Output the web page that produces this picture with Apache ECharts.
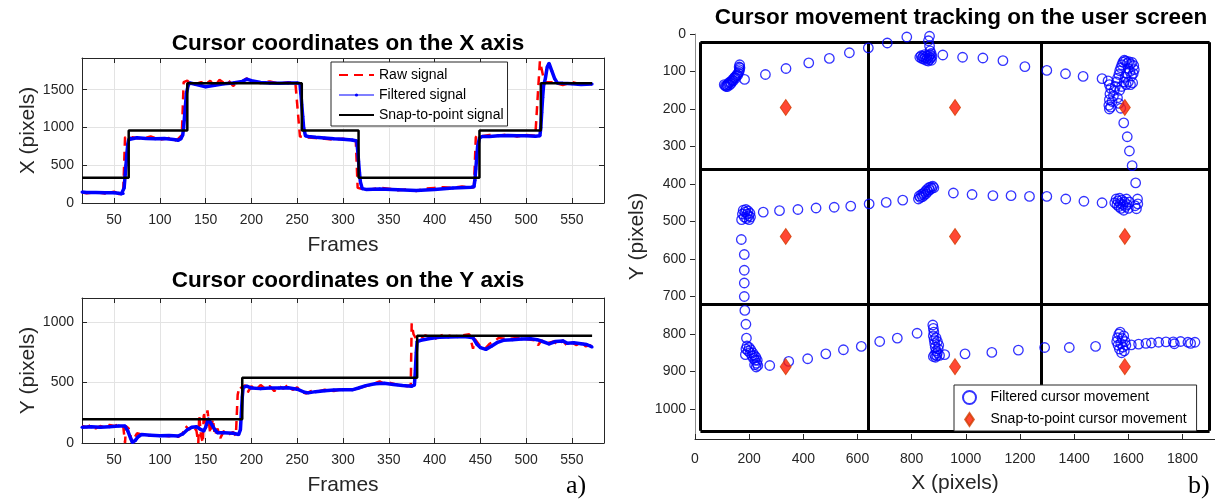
<!DOCTYPE html>
<html>
<head>
<meta charset="utf-8">
<script src="https://cdn.jsdelivr.net/npm/echarts@6.0.0/dist/echarts.min.js"></script>
<style>
html, body { margin: 0; padding: 0; background: #fff; }
#main { width: 1215px; height: 499px; }
</style>
</head>
<body>
<div id="main"></div>
<script>
// tick labels
var frameTicks = [50, 100, 150, 200, 250, 300, 350, 400, 450, 500, 550];
var xPixTicks = [0, 500, 1000, 1500];
var yPixTicks = [0, 500, 1000];
var screenXTicks = [0, 200, 400, 600, 800, 1000, 1200, 1400, 1600, 1800];
var screenYTicks = [0, 100, 200, 300, 400, 500, 600, 700, 800, 900, 1000];

// X coordinate over frames [frame, pixels]
var rawX = [[15,140],[20,130],[30,145],[40,125],[50,150],[55,120],[58,110],[60,140],[62,870],[64,850],
  [70,870],[80,850],[90,880],[100,840],[110,860],[115,820],[120,850],[124,900],[126,1600],[130,1620],
  [135,1560],[140,1580],[145,1600],[150,1570],[155,1620],[160,1540],[165,1630],[170,1590],[175,1620],[180,1550],
  [185,1600],[190,1610],[195,1650],[200,1600],[210,1590],[220,1610],[230,1580],[240,1600],[248,1590],[250,1580],
  [253,880],[255,900],[260,870],[270,860],[280,850],[290,840],[300,850],[310,830],[314,820],[316,200],
  [318,180],[320,190],[330,180],[340,200],[350,190],[360,170],[370,180],[380,160],[390,190],[400,200],
  [410,210],[420,200],[430,220],[440,200],[443,210],[445,870],[447,900],[450,880],[460,900],[470,890],
  [480,910],[490,880],[500,900],[510,890],[512,900],[515,1880],[517,1870],[520,1600],[522,1580],[530,1600],
  [540,1560],[550,1600],[560,1570],[570,1580],[572,1570]];
var filteredX = [[15,145],[20,140],[30,140],[40,135],[50,135],[55,130],[58,120],[60,125],[61,200],[62,350],
  [63,500],[64,650],[65,780],[66,840],[68,860],[75,865],[85,855],[95,850],[105,855],[115,840],
  [120,830],[123,850],[125,900],[126,1000],[127,1150],[128,1300],[129,1450],[131,1560],[133,1590],[140,1570],
  [150,1540],[160,1560],[170,1580],[180,1590],[190,1610],[195,1640],[200,1620],[210,1595],[220,1590],[230,1585],
  [240,1590],[250,1590],[253,1580],[254,1450],[255,1300],[256,1150],[257,1000],[259,890],[262,880],[270,870],
  [280,860],[290,850],[300,845],[310,835],[315,820],[316,700],[317,550],[318,400],[319,280],[321,190],
  [325,180],[340,185],[360,175],[380,165],[400,180],[420,200],[440,210],[443,215],[444,300],[445,450],
  [446,600],[447,750],[449,860],[452,880],[460,880],[470,890],[480,895],[490,890],[500,890],[510,885],
  [515,890],[516,1000],[517,1200],[518,1400],[519,1550],[521,1650],[523,1800],[525,1850],[528,1750],[531,1650],
  [534,1590],[540,1585],[550,1580],[560,1570],[572,1575]];
var snapX = [[15,335],[66,960],[130,1587],[255,960],[317,335],[449,960],[516,1587],[572,1587]];

// Y coordinate over frames [frame, pixels]
var rawY = [[15,140],[20,130],[25,150],[30,120],[35,140],[40,130],[45,150],[50,140],[55,155],[60,140],
  [62,0],[63,140],[66,120],[70,0],[72,40],[75,80],[80,70],[90,60],[100,65],[110,55],
  [115,70],[120,50],[125,80],[128,140],[132,110],[136,150],[140,100],[142,0],[143,230],[145,60],
  [147,0],[148,260],[150,120],[152,270],[155,80],[158,200],[160,60],[163,120],[166,40],[170,100],
  [175,70],[180,90],[183,60],[185,400],[187,470],[190,450],[193,480],[196,420],[200,470],[205,440],
  [210,480],[215,450],[220,470],[225,430],[230,470],[235,450],[240,480],[245,440],[250,460],[255,420],
  [260,410],[265,430],[270,420],[280,440],[290,430],[300,450],[310,440],[320,460],[330,480],[340,510],
  [345,490],[350,500],[360,480],[370,470],[374,480],[375,990],[377,900],[380,860],[385,870],[390,890],
  [400,860],[410,900],[420,880],[430,890],[438,900],[442,780],[444,860],[450,800],[455,780],[460,820],
  [465,840],[470,870],[480,860],[490,870],[500,860],[510,850],[513,810],[517,850],[520,820],[530,840],
  [535,810],[540,850],[545,800],[550,830],[555,810],[560,840],[565,800],[570,810],[572,790]];
var filteredY = [[15,130],[25,135],[35,130],[45,135],[55,140],[62,140],[65,100],[68,40],[70,5],[73,20],
  [76,50],[80,70],[90,65],[100,60],[110,62],[120,58],[125,75],[130,110],[135,130],[140,135],
  [145,110],[148,100],[150,130],[153,200],[156,160],[160,110],[163,85],[170,85],[180,80],[186,70],
  [188,110],[189,250],[190,380],[191,460],[195,470],[200,455],[210,450],[220,455],[230,455],[240,458],
  [250,445],[258,420],[262,415],[270,425],[280,432],[290,438],[300,440],[310,440],[317,455],[325,475],
  [335,490],[345,495],[355,485],[365,475],[375,470],[378,480],[379,600],[380,750],[381,840],[385,850],
  [395,865],[405,875],[415,878],[425,880],[435,880],[442,870],[446,820],[450,790],[456,775],[462,800],
  [468,830],[475,850],[485,855],[495,860],[505,862],[512,855],[518,840],[525,820],[532,840],[540,845],
  [545,825],[552,830],[560,822],[566,815],[572,795]];
var snapY = [[15,196],[190,540],[381,887],[572,887]];

// cursor positions on the screen [x, y]
var cursorTrack = [
  [108,135],[112,138],[115,140],[118,136],[120,140],[122,134],[125,130],[128,136],[130,128],[133,132],
  [136,126],[138,122],[141,125],[144,118],[147,115],[150,118],[152,112],[155,108],[158,110],[160,104],
  [163,100],[164,95],[163,88],[165,82],[166,90],[183,121],
  [260,108],[336,92],[420,77],[496,65],[570,50],[640,37],[710,24],[782,8],[866,6],[862,18],[866,32],[868,45],
  [830,62],[835,58],[838,65],[842,60],[845,67],[848,55],[850,63],[853,70],[856,58],[858,65],
  [861,72],[864,60],[866,68],[868,55],[870,64],[873,70],[872,52],[875,60],
  [915,56],[988,62],[1063,64],[1137,71],[1218,87],[1299,97],[1368,106],[1433,113],[1503,119],
  [1525,125],[1530,135],[1535,145],[1532,160],[1530,175],[1528,190],[1530,200],[1535,195],[1540,180],[1545,165],
  [1548,150],[1552,140],[1556,128],[1560,118],[1565,108],[1568,98],[1572,90],[1576,82],[1580,75],[1585,70],
  [1590,72],[1596,78],[1602,74],[1608,80],[1614,76],[1620,84],[1622,95],[1618,105],[1612,112],[1606,100],
  [1600,92],[1594,105],[1588,115],[1584,128],[1592,135],[1600,128],[1608,135],[1616,130],[1575,140],[1568,150],
  [1560,170],[1565,185],[1572,198],
  [1583,237],[1596,274],[1604,312],[1614,351],[1627,397],[1634,440],[1635,453],[1630,466],[1625,458],
  [1550,450],[1555,440],[1558,455],[1562,445],[1565,460],[1568,438],[1570,452],[1573,465],[1576,443],
  [1580,455],[1583,470],[1586,448],[1590,460],[1593,440],[1596,455],[1600,465],[1604,448],
  [1503,450],[1436,446],[1369,440],[1299,433],[1235,433],[1167,431],[1100,431],[1023,428],[954,424],
  [825,440],[828,432],[832,436],[836,428],[840,434],[843,425],[846,430],[850,420],[853,426],
  [856,415],[860,420],[863,410],[866,416],[870,408],[874,412],[878,406],[882,410],
  [767,443],[706,449],[643,453],[575,459],[514,462],[447,464],[380,468],[312,471],[252,475],
  [172,495],[175,480],[178,470],[182,488],[185,475],[188,468],[190,492],[193,480],[196,472],[198,485],
  [200,495],[203,478],[205,488],
  [171,548],[182,588],[182,630],[182,664],[182,700],[184,737],[188,774],[190,811],
  [188,840],[192,832],[196,845],[200,836],[203,850],[206,842],[210,858],[213,850],[216,865],[219,857],
  [222,870],[225,862],[228,878],[230,870],[232,884],[226,888],[220,882],[186,855],
  [276,884],[346,873],[416,866],[483,853],[548,842],[614,833],[682,820],[747,811],[820,798],
  [878,776],[880,785],[882,795],[880,805],[883,815],[885,825],[887,835],[890,845],[885,855],
  [880,860],[888,862],[893,858],[895,850],[898,840],[900,830],[895,820],[890,810],[903,857],
  [922,855],[997,853],[1096,849],[1194,843],[1291,836],[1382,836],[1479,833],
  [1557,820],[1560,810],[1562,830],[1565,800],[1567,840],[1570,795],[1572,825],[1575,850],[1577,812],
  [1580,835],[1583,805],[1585,845],[1588,820],[1591,830],
  [1611,829],[1638,827],[1665,825],[1685,824],[1712,822],[1739,821],[1766,821],[1793,820],[1820,822],
  [1846,822],[1830,825],[1770,826]
];
var snapCentersX = [335, 960, 1587];
var snapCentersY = [196, 540, 887];

// screen frame and its 3x3 division
var frameXs = [20, 640, 1280, 1900];
var frameYs = [22, 360, 720, 1058];

var FONT = 'Liberation Sans, Arial, sans-serif';
var INK = '#262626';
var DIAMOND = 'path://M5,0L10,7.5L5,15L0,7.5Z';

var snapPoints = [];
snapCentersY.forEach(function (y) {
  snapCentersX.forEach(function (x) { snapPoints.push([x, y]); });
});

var screenLines = [];
frameXs.forEach(function (x) {
  screenLines.push({ coords: [[x, frameYs[0]], [x, frameYs[frameYs.length - 1]]] });
});
frameYs.forEach(function (y) {
  screenLines.push({ coords: [[frameXs[0], y], [frameXs[frameXs.length - 1], y]] });
});

function plain(v) { return String(v); }

function frameAxis(grid, pos, main) {
  return {
    type: 'value', gridIndex: grid, position: pos, min: 15, max: 585,
    name: main ? 'Frames' : '', nameLocation: 'middle', nameGap: 32,
    nameTextStyle: { fontSize: 21, color: INK, fontFamily: FONT },
    axisLine: { show: true, onZero: false, lineStyle: { color: INK, width: 1 } },
    axisTick: { show: true, inside: true, length: 5, customValues: frameTicks, lineStyle: { color: INK } },
    axisLabel: { show: main, customValues: frameTicks, formatter: plain, margin: 10, fontSize: 14, color: INK, fontFamily: FONT },
    splitLine: { show: main, lineStyle: { color: '#e3e3e3', width: 1 } }
  };
}

function pixAxis(grid, pos, main, max, ticks, label) {
  return {
    type: 'value', gridIndex: grid, position: pos, min: 0, max: max,
    name: main ? label : '', nameLocation: 'middle', nameGap: 40,
    nameTextStyle: { fontSize: 21, color: INK, fontFamily: FONT },
    axisLine: { show: true, onZero: false, lineStyle: { color: INK, width: 1 } },
    axisTick: { show: true, inside: true, length: 5, customValues: ticks, lineStyle: { color: INK } },
    axisLabel: { show: main, customValues: ticks, formatter: plain, margin: 8, fontSize: 14, color: INK, fontFamily: FONT },
    splitLine: { show: main, lineStyle: { color: '#e3e3e3', width: 1 } }
  };
}

var rawStyle = { color: '#ff0000', width: 2.5, type: [9, 6] };
var filtStyle = { color: '#0000ff', width: 3.5 };
var snapStyle = { color: '#000000', width: 2.5 };

var myChart = echarts.init(document.getElementById('main'), null, { renderer: 'canvas' });
var option = {
  animation: false,
  backgroundColor: '#ffffff',
  textStyle: { fontFamily: FONT },
  title: [
    { text: 'Cursor coordinates on the X axis', left: 343, top: 27, textAlign: 'center',
      textStyle: { fontSize: 22.5, fontWeight: 'bold', color: '#000', fontFamily: FONT } },
    { text: 'Cursor coordinates on the Y axis', left: 343, top: 264, textAlign: 'center',
      textStyle: { fontSize: 22.5, fontWeight: 'bold', color: '#000', fontFamily: FONT } },
    { text: 'Cursor movement tracking on the user screen', left: 956, top: 1, textAlign: 'center',
      textStyle: { fontSize: 22.5, fontWeight: 'bold', color: '#000', fontFamily: FONT } }
  ],
  legend: [
    { data: [
        { name: 'Raw signal', itemStyle: { opacity: 0 } },
        { name: 'Filtered signal', lineStyle: { width: 1.2 } },
        { name: 'Snap-to-point signal', itemStyle: { opacity: 0 } }
      ],
      orient: 'vertical', left: 331, top: 62, padding: [6, 4, 4, 7],
      itemWidth: 35, itemHeight: 4, itemGap: 6,
      backgroundColor: '#ffffff', borderColor: INK, borderWidth: 1, borderRadius: 0,
      textStyle: { fontSize: 14, color: '#000', fontFamily: FONT } },
    { data: [
        { name: 'Filtered cursor movement', icon: 'circle' },
        { name: 'Snap-to-point cursor movement', icon: DIAMOND }
      ],
      orient: 'vertical', left: 954, top: 385, padding: [5, 10, 4, 8],
      itemWidth: 32, itemHeight: 13, itemGap: 7,
      backgroundColor: '#ffffff', borderColor: INK, borderWidth: 1, borderRadius: 0,
      textStyle: { fontSize: 14, color: '#000', fontFamily: FONT } }
  ],
  grid: [
    { left: 82, top: 58, width: 522, height: 145 },
    { left: 82, top: 298, width: 522, height: 145 },
    { left: 695, top: 34, width: 522, height: 409 }
  ],
  xAxis: [
    frameAxis(0, 'bottom', true),
    frameAxis(0, 'top', false),
    frameAxis(1, 'bottom', true),
    frameAxis(1, 'top', false),
    { type: 'value', gridIndex: 2, position: 'bottom', min: 0, max: 1920,
      name: 'X (pixels)', nameLocation: 'middle', nameGap: 34,
      nameTextStyle: { fontSize: 21, color: INK, fontFamily: FONT },
      axisLine: { show: true, onZero: false, lineStyle: { color: INK, width: 1 } },
      axisTick: { show: true, inside: true, length: 5, customValues: screenXTicks, lineStyle: { color: INK } },
      axisLabel: { customValues: screenXTicks, formatter: plain, margin: 13, fontSize: 14, color: INK, fontFamily: FONT },
      splitLine: { show: false } }
  ],
  yAxis: [
    pixAxis(0, 'left', true, 1920, xPixTicks, 'X (pixels)'),
    pixAxis(0, 'right', false, 1920, xPixTicks, ''),
    pixAxis(1, 'left', true, 1200, yPixTicks, 'Y (pixels)'),
    pixAxis(1, 'right', false, 1200, yPixTicks, ''),
    { type: 'value', gridIndex: 2, position: 'left', min: 0, max: 1080, inverse: true,
      name: 'Y (pixels)', nameLocation: 'middle', nameGap: 47,
      nameTextStyle: { fontSize: 21, color: INK, fontFamily: FONT },
      axisLine: { show: true, onZero: false, lineStyle: { color: '#8c8c8c', width: 1 } },
      axisTick: { show: true, inside: false, length: 5, customValues: screenYTicks, lineStyle: { color: INK } },
      axisLabel: { customValues: screenYTicks, formatter: plain, margin: 9, fontSize: 14, color: INK, fontFamily: FONT },
      splitLine: { show: false } }
  ],
  series: [
    { name: 'Raw signal', type: 'line', xAxisIndex: 0, yAxisIndex: 0, data: rawX,
      symbol: 'none', lineStyle: rawStyle, itemStyle: { color: '#ff0000' }, z: 2 },
    { name: 'Filtered signal', type: 'line', xAxisIndex: 0, yAxisIndex: 0, data: filteredX,
      symbol: 'circle', symbolSize: 3, showSymbol: true, lineStyle: filtStyle, itemStyle: { color: '#0000ff' }, z: 3 },
    { name: 'Snap-to-point signal', type: 'line', xAxisIndex: 0, yAxisIndex: 0, data: snapX,
      step: 'end', symbol: 'none', lineStyle: snapStyle, itemStyle: { color: '#000' }, z: 4 },
    { name: 'Raw signal', type: 'line', xAxisIndex: 2, yAxisIndex: 2, data: rawY,
      symbol: 'none', lineStyle: rawStyle, itemStyle: { color: '#ff0000' }, z: 2 },
    { name: 'Filtered signal', type: 'line', xAxisIndex: 2, yAxisIndex: 2, data: filteredY,
      symbol: 'circle', symbolSize: 3, showSymbol: true, lineStyle: filtStyle, itemStyle: { color: '#0000ff' }, z: 3 },
    { name: 'Snap-to-point signal', type: 'line', xAxisIndex: 2, yAxisIndex: 2, data: snapY,
      step: 'end', symbol: 'none', lineStyle: snapStyle, itemStyle: { color: '#000' }, z: 4 },
    { name: 'screen', type: 'lines', coordinateSystem: 'cartesian2d', xAxisIndex: 4, yAxisIndex: 4,
      data: screenLines, silent: true, lineStyle: { color: '#000', width: 3, opacity: 1 }, z: 1 },
    { name: 'Filtered cursor movement', type: 'scatter', xAxisIndex: 4, yAxisIndex: 4, data: cursorTrack,
      symbol: 'circle', symbolSize: 9.5,
      itemStyle: { color: 'rgba(0,0,0,0)', borderColor: '#0000ff', borderWidth: 1.3 }, z: 3 },
    { name: 'Snap-to-point cursor movement', type: 'scatter', xAxisIndex: 4, yAxisIndex: 4, data: snapPoints,
      symbol: 'diamond', symbolSize: [11, 16],
      itemStyle: { color: '#ff1a00', borderColor: '#d13d00', borderWidth: 1 }, z: 4 }
  ],
  graphic: [
    { type: 'text', left: 566, top: 473, style: { text: 'a)', fontSize: 26, fill: '#000', fontFamily: 'Liberation Serif, serif' } },
    { type: 'text', left: 1188, top: 473, style: { text: 'b)', fontSize: 26, fill: '#000', fontFamily: 'Liberation Serif, serif' } }
  ]
};

myChart.setOption(option);
</script>
</body>
</html>
